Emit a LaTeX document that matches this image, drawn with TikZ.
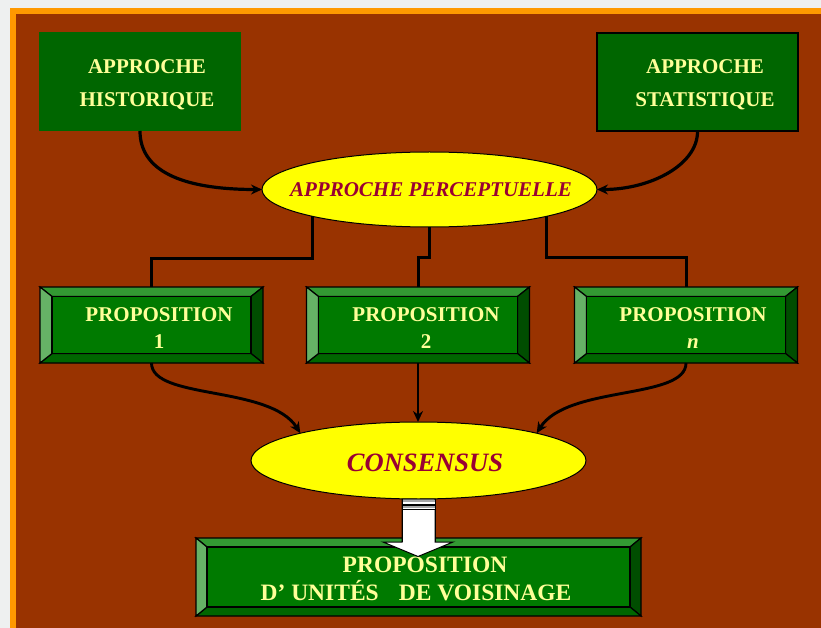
\documentclass[tikz,border=0pt]{standalone}
\usepackage{fontspec}
\setmainfont{Liberation Serif}
\usetikzlibrary{shapes.geometric,arrows.meta,calc}
\definecolor{bgray}{HTML}{EEF0F0}
\definecolor{orng}{HTML}{FF9900}
\definecolor{brwn}{HTML}{993300}
\definecolor{dgreen}{HTML}{006600}
\definecolor{ltxt}{HTML}{FFFF99}
\definecolor{rtxt}{HTML}{990033}
\definecolor{yel}{HTML}{FFFF00}
\definecolor{bvtop}{HTML}{339933}
\definecolor{bvleft}{HTML}{66B266}
\definecolor{bvright}{HTML}{004D00}
\definecolor{bvbot}{HTML}{006600}
\definecolor{bvmid}{HTML}{007A00}
\newcommand\bevelbox[3]{%
  \path ($(#1.north west)+(#2,#3)$) coordinate (#1-a)
        ($(#1.north east)+(-#2,#3)$) coordinate (#1-b)
        ($(#1.south east)+(-#2,-#3)$) coordinate (#1-c)
        ($(#1.south west)+(#2,-#3)$) coordinate (#1-d);
  \filldraw[bevline,fill=bvtop] (#1.north west) -- (#1.north east) -- (#1-b) -- (#1-a) -- cycle;
  \filldraw[bevline,fill=bvright] (#1.north east) -- (#1.south east) -- (#1-c) -- (#1-b) -- cycle;
  \filldraw[bevline,fill=bvbot] (#1.south east) -- (#1.south west) -- (#1-d) -- (#1-c) -- cycle;
  \filldraw[bevline,fill=bvleft] (#1.south west) -- (#1.north west) -- (#1-a) -- (#1-d) -- cycle;
  \filldraw[bevline,fill=bvmid] (#1-a) rectangle (#1-c);
}
\begin{document}
\begin{tikzpicture}[x=1pt,y=-1pt,
  bevline/.style={draw=black,line width=1.2pt,line join=miter},
  topbox/.style={rectangle,fill=dgreen,inner sep=0,outer sep=0,minimum width=201pt,minimum height=98pt},
  propbox/.style={rectangle,inner sep=0,outer sep=0,minimum width=223pt,minimum height=76pt},
  boxtext/.style={text=ltxt,font=\fontsize{21}{33}\selectfont\bfseries,align=center,inner sep=0},
  proptext/.style={text=ltxt,font=\fontsize{21}{27}\selectfont\bfseries,align=center,inner sep=0},
  ell/.style={ellipse,fill=yel,draw=black,line width=1pt,inner sep=0,outer sep=0},
  elltext/.style={text=rtxt,font=\bfseries\itshape,inner sep=0},
  bigarr/.style={line width=3.2pt,-{Stealth[length=11pt,width=10pt]}},
  parr/.style={line width=2.9pt,-{Stealth[length=11pt,width=10pt]}},
  elbow/.style={line width=3pt,line join=miter}
]
\useasboundingbox (0,0) rectangle (821,628);
\fill[bgray] (0,0) rectangle (821,628);
\fill[orng] (10,8) rectangle (821,628);
\fill[brwn] (16,14) rectangle (821,628);

% top boxes
\node[topbox,draw=dgreen,line width=1pt] (hist) at (140,82) {};
\node[boxtext] (histt) at (147,85) {APPROCHE\\HISTORIQUE};
\node[topbox,draw=black,line width=1.6pt] (stat) at (697.5,82) {};
\node[boxtext] (statt) at (705,85) {APPROCHE\\STATISTIQUE};

% perceptual ellipse
\node[ell,minimum width=335pt,minimum height=75pt] (app) at (429.5,189.5) {};
\node[elltext,font=\fontsize{21}{25}\selectfont\bfseries\itshape] (appt) at (431,190) {APPROCHE PERCEPTUELLE};

% proposition boxes
\node[propbox] (p1) at (151.5,325) {};
\node[propbox] (p2) at (418,325) {};
\node[propbox] (p3) at (686,325) {};
\bevelbox{p1}{12}{9.5}
\bevelbox{p2}{12}{9.5}
\bevelbox{p3}{12}{9.5}
\node[proptext] (p1t) at (159,328.5) {PROPOSITION\\1};
\node[proptext] (p2t) at (426,328.5) {PROPOSITION\\2};
\node[proptext] (p3t) at (693,328.5) {PROPOSITION\\\textit{n}};

% consensus ellipse
\node[ell,minimum width=335pt,minimum height=77pt] (cons) at (418.5,460.5) {};
\node[elltext,font=\fontsize{26.5}{30}\selectfont\bfseries\itshape] (const) at (425,463) {CONSENSUS};

% final box
\node[propbox,minimum width=445pt,minimum height=78pt] (fin) at (418.5,577) {};
\bevelbox{fin}{11}{9}
\node[proptext,font=\fontsize{23.5}{28}\selectfont\bfseries] (fint) at (416,579) {\hspace{18pt}PROPOSITION\\D’ UNITÉS\hspace{20pt}DE VOISINAGE};

% curved arrows into perceptual ellipse
\draw[bigarr] (hist.south) .. controls (140,170) and (180,189.5) .. (app.west);
\draw[bigarr] (stat.south) .. controls (698,165) and (650,189.5) .. (app.east);

% elbow connectors
\coordinate (lv1) at (0,258);
\coordinate (lv2) at (0,257);
\draw[elbow] (app.193) -- (app.193 |- lv1) -| (p1.north);
\draw[elbow] (app.south) -- (app.south |- lv2) -| (p2.north);
\draw[elbow] (app.347) -- (app.347 |- lv2) -| (p3.north);

% arrows into consensus
\draw[parr] (p1.south) .. controls (151.5,400) and (270,385) .. (cons.167);
\draw[parr] (p2.south) -- (p2.south |- cons.north);
\draw[parr] (p3.south) .. controls (686,400) and (567,385) .. (cons.13);

% block arrow from consensus to final box
\filldraw[fill=white,draw=black,line width=1pt,line join=miter]
  (402,499) -- (435,499) -- (435,542) -- (453,542) -- (418,556.5) -- (383,542) -- (402,542) -- cycle;
\fill[gray!70] (402,499.5) rectangle (435,510);
\fill[white] (402,502) rectangle (435,504);
\fill[black] (402,504) rectangle (435,505.5);
\fill[white] (402,507.5) rectangle (435,508.5);
\fill[black] (402,508.5) rectangle (435,510);
\draw[black,line width=1pt] (402,499) -- (402,542) (435,499) -- (435,542);
\end{tikzpicture}
\end{document}
